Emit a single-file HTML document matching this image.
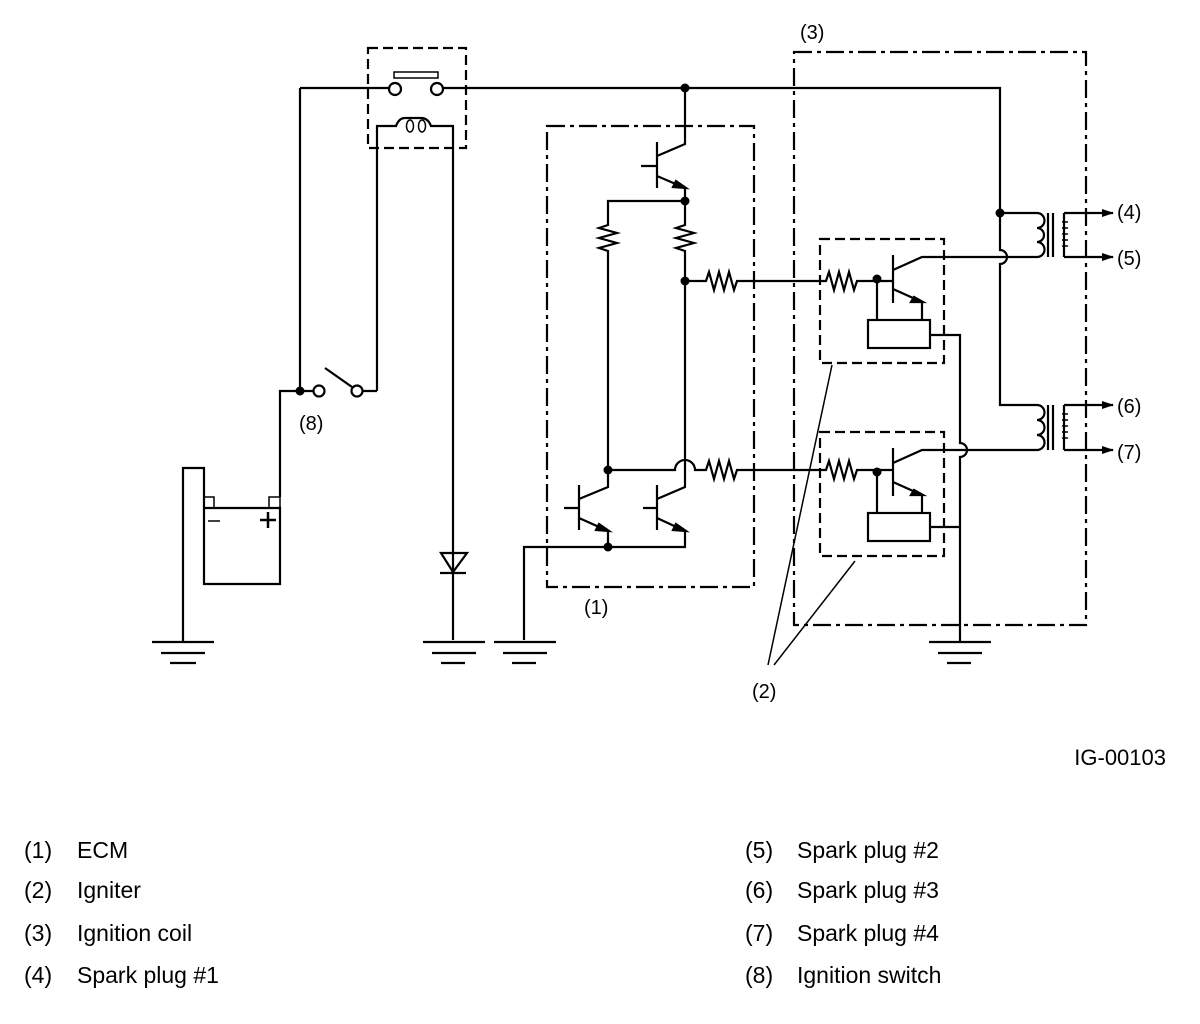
<!DOCTYPE html>
<html><head><meta charset="utf-8"><style>
html,body{margin:0;padding:0;background:#fff;}
svg{display:block;}
text{font-family:"Liberation Sans",sans-serif;fill:#000;}
</style></head><body>
<svg width="1200" height="1024" viewBox="0 0 1200 1024" xmlns="http://www.w3.org/2000/svg">
<defs>
<marker id="ar" markerWidth="12" markerHeight="8" refX="11" refY="4" orient="auto" markerUnits="userSpaceOnUse"><path d="M0,0 L12,4 L0,8 Z" fill="#000"/></marker>
</defs>
<g fill="none" stroke="#000" stroke-width="2.2">
<rect x="368" y="48" width="98" height="100" stroke-dasharray="10,5"/>
<rect x="394" y="72" width="44" height="6" stroke-width="1.5"/>
<circle cx="395" cy="89" r="6"/><circle cx="437" cy="89" r="6"/>
<path d="M300,88 H389 M443,88 H1000 V210"/>
<path d="M377,391 V126 H396 Q399,118 405,118 H421 Q428,118 431,126 H453 V640"/>
<ellipse cx="410" cy="126" rx="3.5" ry="6" stroke-width="1.5"/><ellipse cx="422" cy="126" rx="3.5" ry="6" stroke-width="1.5"/>
<path d="M300,88 V391 H313 M300,391 H280 V497"/>
<circle cx="319" cy="391" r="5.5"/><circle cx="357" cy="391" r="5.5"/>
<path d="M325,368 L352,387 M363,391 H377"/>
<path d="M183,642 V468 H204 V584 H280 V508 H204"/>
<path d="M204,508 V497 H214 V508 M269,508 V497 H280 V508" stroke-width="1.5"/>
<path d="M208,521 H220" stroke-width="1.5"/>
<path d="M268,512 V528 M260,520 H276" stroke-width="2.5"/>
<path d="M152,642 H214 M161,653 H205 M170,663 H196"/>
<path d="M423,642 H485 M432,653 H476 M441,663 H465"/>
<path d="M494,642 H556 M503,653 H547 M512,663 H536"/>
<path d="M929,642 H991 M938,653 H982 M947,663 H971"/>
<path d="M441,553 H467 L453,572 Z M440,573 H466"/>
<rect x="547" y="126" width="207" height="461" stroke-dasharray="18,5,4,5"/>
<path d="M685,88 V144 L657,156 M657,142 V188 M641,166 H657 M657,176 L685,188 V201" />
<path d="M676,181 L686,188 L673,187 Z" fill="#000"/>
<path d="M685,201 H608 V225 l-9,3 l18,5 l-18,5 l18,5 l-18,5 l9,3 V470"/>
<path d="M685,201 V225 l-9,3 l18,5 l-18,5 l18,5 l-18,5 l9,3 V465"/>
<path d="M685,281 H706 l3,-9 l5,18 l5,-18 l5,18 l5,-18 l5,18 l3,-9 H826 l3,-9 l5,18 l5,-18 l5,18 l5,-18 l5,18 l3,-9 H893"/>
<path d="M608,470 V487 L579,499 M579,485 V530 M564,508 H579 M579,518 L608,531 V547"/>
<path d="M685,465 V487 L657,499 M657,485 V530 M643,508 H657 M657,518 L685,531 V547 H524 V640"/>
<path d="M599,524 L609,531 L596,530 Z M676,524 L686,531 L673,530 Z" fill="#000"/>
<path d="M608,470 H675 A10,10 0 0 1 695,470 H706 l3,-9 l5,18 l5,-18 l5,18 l5,-18 l5,18 l3,-9 H826 l3,-9 l5,18 l5,-18 l5,18 l5,-18 l5,18 l3,-9 H893"/>
<rect x="794" y="52" width="292" height="573" stroke-dasharray="18,5,4,5"/>
<rect x="820" y="239" width="124" height="124" stroke-dasharray="10,5"/>
<rect x="820" y="432" width="124" height="124" stroke-dasharray="10,5"/>
<path d="M893,255 V303 M893,270 L922,257 H1037 M893,289 L922,302 V320 M877,279 V320"/>
<rect x="868" y="320" width="62" height="28"/>
<path d="M893,448 V496 M893,463 L922,450 H1037 M893,482 L922,495 V513 M877,472 V513"/>
<rect x="868" y="513" width="62" height="28"/>
<path d="M914,297 L923,302 L911,302 Z M914,490 L923,495 L911,495 Z" fill="#000"/>
<path d="M930,335 H960 V443 A7,7 0 0 1 960,457 V642 M930,527 H960"/>
<path d="M1000,210 V250 A7,7 0 0 1 1000,264 V405 H1037 M1000,213 H1037"/>
<path d="M1037,213 a7,7 0 0 1 0,15 a7,7 0 0 1 0,14 a7,7 0 0 1 0,15"/>
<path d="M1037,405 a7,7 0 0 1 0,15 a7,7 0 0 1 0,15 a7,7 0 0 1 0,15"/>
<path d="M1048,213 V257 M1053,213 V257 M1048,405 V450 M1053,405 V450"/>
<path d="M1064,213 V257 M1064,405 V450"/>
<path d="M1062,222 h6 M1062,228 h6 M1062,234 h6 M1062,240 h6 M1062,246 h6 M1062,414 h6 M1062,420 h6 M1062,426 h6 M1062,432 h6 M1062,438 h6" stroke-width="1.5"/>
<path d="M1064,213 H1113" marker-end="url(#ar)"/>
<path d="M1064,257 H1113" marker-end="url(#ar)"/>
<path d="M1064,405 H1113" marker-end="url(#ar)"/>
<path d="M1064,450 H1113" marker-end="url(#ar)"/>
<path d="M832,365 L768,665 M855,561 L774,665" stroke-width="1.5"/>
</g>
<g fill="#000">
<circle cx="685" cy="88" r="4.5"/><circle cx="685" cy="201" r="4.5"/><circle cx="685" cy="281" r="4.5"/>
<circle cx="608" cy="470" r="4.5"/><circle cx="608" cy="547" r="4.5"/>
<circle cx="300" cy="391" r="4.5"/><circle cx="1000" cy="213" r="4.5"/>
<circle cx="877" cy="279" r="4.5"/><circle cx="877" cy="472" r="4.5"/>
</g>
<g font-size="20">
<text x="800" y="39">(3)</text>
<text x="1117" y="219">(4)</text>
<text x="1117" y="265">(5)</text>
<text x="1117" y="413">(6)</text>
<text x="1117" y="459">(7)</text>
<text x="584" y="614">(1)</text>
<text x="752" y="698">(2)</text>
<text x="299" y="430">(8)</text>
</g>
<text x="1166" y="765" text-anchor="end" font-size="22">IG-00103</text>
<g font-size="23">
<text x="24" y="858">(1)</text><text x="77" y="858">ECM</text>
<text x="24" y="898">(2)</text><text x="77" y="898">Igniter</text>
<text x="24" y="941">(3)</text><text x="77" y="941">Ignition coil</text>
<text x="24" y="983">(4)</text><text x="77" y="983">Spark plug #1</text>
<text x="745" y="858">(5)</text><text x="797" y="858">Spark plug #2</text>
<text x="745" y="898">(6)</text><text x="797" y="898">Spark plug #3</text>
<text x="745" y="941">(7)</text><text x="797" y="941">Spark plug #4</text>
<text x="745" y="983">(8)</text><text x="797" y="983">Ignition switch</text>
</g>
</svg>
</body></html>
